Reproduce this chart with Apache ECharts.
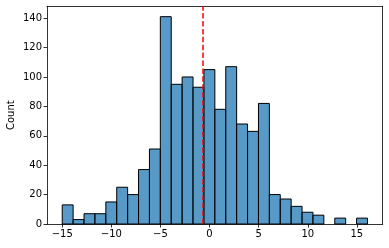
<!DOCTYPE html>
<html><head><meta charset="utf-8">
<script src="https://cdn.jsdelivr.net/npm/echarts@6/dist/echarts.min.js"></script>
<style>html,body{margin:0;padding:0;background:#fff}#c{width:389px;height:248px}</style>
</head><body><div id="c"></div>
<script>
const binStart = -15.0;
const binWidth = 1.11;
const counts = [13,3,7,7,15,25,20,37,51,141,95,100,93,105,78,107,68,63,82,20,17,12,8,6,0,4,0,4];
const xTicks = [-15,-10,-5,0,5,10,15];
const yTicks = [0,20,40,60,80,100,120,140];
const meanValue = -0.7;

const bins = counts.map((c,i)=>[binStart+i*binWidth, binStart+(i+1)*binWidth, c]).filter(b=>b[2]>0);
const chart = echarts.init(document.getElementById('c'), null, {renderer:'canvas'});
const font = 'DejaVu Sans';
const XMIN=-16.55, XMAX=17.63, YMAX=148.05;
const spine = {show:true,onZero:false,lineStyle:{color:'#000',width:0.8}};
chart.setOption({
  animation:false,
  grid:{left:47,right:6.3,top:6.3,bottom:24,containLabel:false,outerBoundsMode:'none'},
  xAxis:[{type:'value',min:XMIN,max:XMAX,position:'bottom',
    axisLine:spine,
    axisTick:{show:true,length:3.5,lineStyle:{color:'#000',width:0.8},customValues:xTicks},
    axisLabel:{color:'#000',fontFamily:font,fontSize:10,margin:5,customValues:xTicks,formatter:v=>String(v).replace('-','\u2212')},
    splitLine:{show:false}},
    {type:'value',min:XMIN,max:XMAX,position:'top',axisLine:spine,axisTick:{show:false},axisLabel:{show:false},splitLine:{show:false}}],
  yAxis:[{type:'value',min:0,max:YMAX,position:'left',
    name:'Count',nameLocation:'middle',nameGap:31,nameMoveOverlap:false,nameTextStyle:{color:'#000',fontFamily:font,fontSize:10},
    axisLine:spine,
    axisTick:{show:true,length:3.5,lineStyle:{color:'#000',width:0.8},customValues:yTicks},
    axisLabel:{color:'#000',fontFamily:font,fontSize:10,margin:5,customValues:yTicks},
    splitLine:{show:false}},
    {type:'value',min:0,max:YMAX,position:'right',axisLine:spine,axisTick:{show:false},axisLabel:{show:false},splitLine:{show:false}}],
  series:[
    {type:'custom',data:bins,
      renderItem:(params,api)=>{
        const p0=api.coord([api.value(0),api.value(2)]);
        const p1=api.coord([api.value(1),0]);
        return {type:'rect',shape:{x:p0[0],y:p0[1],width:p1[0]-p0[0],height:p1[1]-p0[1]},
          style:{fill:'rgba(31,119,180,0.75)',stroke:'#000',lineWidth:1}};
      }},
    {type:'line',data:[],markLine:{silent:true,symbol:'none',label:{show:false},
      lineStyle:{color:'#ff0000',type:[5.5,2.4],width:1.5},
      data:[[{coord:[meanValue,0]},{coord:[meanValue,YMAX]}]]}}
  ]
});
</script></body></html>
